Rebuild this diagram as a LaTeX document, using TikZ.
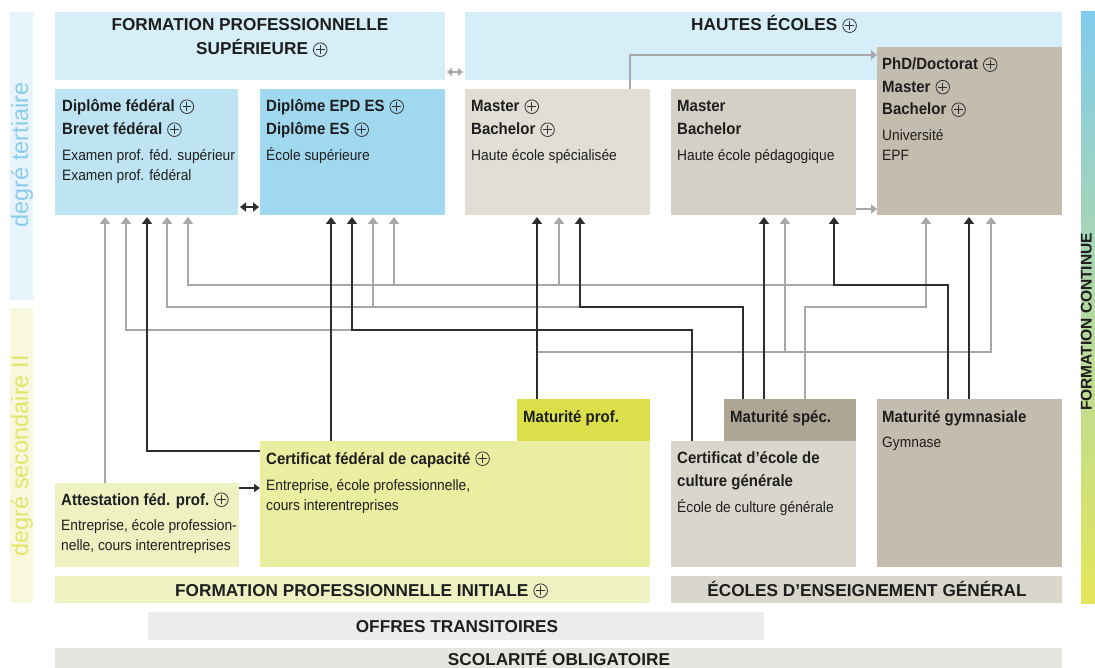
\documentclass[tikz,border=0pt]{standalone}
\usepackage{fontspec}
\setmainfont{Liberation Sans}
\newfontfamily\nar{Liberation Sans}[FakeStretch=0.92]
\usetikzlibrary{arrows.meta}
\definecolor{lbTbg}{RGB}{232,244,251}
\definecolor{lbTtx}{RGB}{138,204,236}
\definecolor{lbSbg}{RGB}{248,248,222}
\definecolor{lbStx}{RGB}{226,230,104}
\definecolor{hdblue}{RGB}{214,238,248}
\definecolor{cdipfed}{RGB}{190,228,244}
\definecolor{cepd}{RGB}{160,216,240}
\definecolor{ches}{RGB}{225,222,214}
\definecolor{chep}{RGB}{212,208,197}
\definecolor{cphd}{RGB}{196,189,175}
\definecolor{cmatprof}{RGB}{218,223,74}
\definecolor{ccfc}{RGB}{234,238,160}
\definecolor{cafp}{RGB}{238,241,194}
\definecolor{cmatspec}{RGB}{174,165,148}
\definecolor{cecg}{RGB}{217,214,204}
\definecolor{cot}{RGB}{236,236,234}
\definecolor{cscol}{RGB}{231,229,224}
\definecolor{fctop}{RGB}{128,203,237}
\definecolor{fcmid}{RGB}{196,228,200}
\definecolor{fcbot}{RGB}{228,230,90}
\definecolor{txt}{RGB}{30,30,30}
\definecolor{grl}{RGB}{168,168,168}
\definecolor{bkl}{RGB}{45,45,45}
\definecolor{plc}{RGB}{50,50,50}
\newcommand\pl{\hspace{5pt}\tikz[baseline=-5.3pt,x=1pt,y=1pt]{\draw[plc,line width=0.8pt] (0,0) circle (6.8pt); \draw[plc,line width=0.8pt] (-4.3,0)--(4.3,0) (0,-4.3)--(0,4.3);}}
\begin{document}
\begin{tikzpicture}[x=1pt,y=-1pt,
  boxfill/.style={rectangle,inner sep=0pt,outer sep=0pt,anchor=north west,draw=none},
  bt/.style={anchor=base west,inner sep=0pt,text=txt,font=\nar\bfseries\fontsize{16.3}{18}\selectfont},
  lt/.style={anchor=base west,inner sep=0pt,text=txt,font=\nar\fontsize{15}{17}\selectfont},
  hd/.style={inner sep=0pt,text=txt,font=\bfseries\fontsize{17.2}{19}\selectfont},
  grline/.style={color=grl,line width=1.5pt,-{Triangle[length=7pt,width=10pt]}},
  bkline/.style={color=bkl,line width=1.5pt,-{Triangle[length=7pt,width=10pt]}},
  lbl/.style={rotate=90,inner sep=0pt,font=\fontsize{23.5}{26}\selectfont}]
\useasboundingbox (0,0) rectangle (1095,668);
\clip (0,0) rectangle (1095,668);
\fill[white] (0,0) rectangle (1095,668);

% side labels
\node[boxfill,fill=lbTbg,minimum width=23pt,minimum height=288pt] (lblT) at (10,12) {};
\node[boxfill,fill=lbSbg,minimum width=23pt,minimum height=295pt] (lblS) at (10,308) {};
\node[lbl,text=lbTtx] (lblTt) at (22,155) {degré tertiaire};
\node[lbl,text=lbStx] (lblSt) at (22,456) {degré secondaire II};

% formation continue
\node[boxfill,top color=fctop,middle color=fcmid,bottom color=fcbot,minimum width=14pt,minimum height=591pt] (fc) at (1081,12) {};
\node[inner sep=0pt,text=txt,font=\bfseries\fontsize{15.5}{17}\selectfont,rotate=90,anchor=base] (fct) at (1091.5,322) {FORMATION CONTINUE};

% header boxes
\node[boxfill,fill=hdblue,minimum width=390pt,minimum height=68pt] (fps) at (55,12) {};
\node[boxfill,fill=hdblue,minimum width=597pt,minimum height=68pt] (he) at (465,12) {};
\node[hd,anchor=base] (fpst1) at (250,31) {FORMATION PROFESSIONNELLE};
\node[hd,anchor=base west] (fpst2) at (196,55) {SUPÉRIEURE\pl};
\node[hd,anchor=base west] (het) at (691,31) {HAUTES ÉCOLES\pl};

% tertiary boxes
\node[boxfill,fill=cdipfed,minimum width=183pt,minimum height=126pt] (dipfed) at (55,89) {};
\node[boxfill,fill=cepd,minimum width=185pt,minimum height=126pt] (epd) at (260,89) {};
\node[boxfill,fill=ches,minimum width=185pt,minimum height=126pt] (hes) at (465,89) {};
\node[boxfill,fill=chep,minimum width=185pt,minimum height=126pt] (hep) at (671,89) {};
\node[boxfill,fill=cphd,minimum width=185pt,minimum height=168pt] (phd) at (877,47) {};

\node[bt] (tdf1) at (62,112) {Diplôme fédéral\pl};
\node[bt] (tdf2) at (62,135) {Brevet fédéral\pl};
\node[lt] (tdf3) at (62,161) {Examen prof. féd. supérieur};
\node[lt] (tdf4) at (62,181) {Examen prof. fédéral};

\node[bt] (tep1) at (266,112) {Diplôme EPD ES\pl};
\node[bt] (tep2) at (266,135) {Diplôme ES\pl};
\node[lt] (tep3) at (266,161) {École supérieure};

\node[bt] (ths1) at (471,112) {Master\pl};
\node[bt] (ths2) at (471,135) {Bachelor\pl};
\node[lt] (ths3) at (471,161) {Haute école spécialisée};

\node[bt] (thp1) at (677,112) {Master};
\node[bt] (thp2) at (677,135) {Bachelor};
\node[lt] (thp3) at (677,161) {Haute école pédagogique};

\node[bt] (tph1) at (882,70) {PhD/Doctorat\pl};
\node[bt] (tph2) at (882,92.5) {Master\pl};
\node[bt] (tph3) at (882,115) {Bachelor\pl};
\node[lt] (tph4) at (882,141) {Université};
\node[lt] (tph5) at (882,161) {EPF};

% secondary boxes
\node[boxfill,fill=ccfc,minimum width=390pt,minimum height=126pt] (cfc) at (260,441) {};
\node[boxfill,fill=cmatprof,minimum width=133pt,minimum height=42pt] (matprof) at (517,399) {};
\node[boxfill,fill=cafp,minimum width=184pt,minimum height=84pt] (afp) at (55,483) {};
\node[boxfill,fill=cecg,minimum width=185pt,minimum height=126pt] (ecg) at (671,441) {};
\node[boxfill,fill=cmatspec,minimum width=132pt,minimum height=42pt] (matspec) at (724,399) {};
\node[boxfill,fill=cphd,minimum width=185pt,minimum height=168pt] (matgym) at (877,399) {};

\node[bt] (tmp) at (523,422) {Maturité prof.};
\node[bt] (tms) at (730,422) {Maturité spéc.};
\node[bt] (tmg1) at (882,422) {Maturité gymnasiale};
\node[lt] (tmg2) at (882,447) {Gymnase};
\node[bt] (tcf1) at (266,464) {Certificat fédéral de capacité\pl};
\node[lt] (tcf2) at (266,490) {Entreprise, école professionnelle,};
\node[lt] (tcf3) at (266,510) {cours interentreprises};
\node[bt] (tec1) at (677,463) {Certificat d’école de};
\node[bt] (tec2) at (677,486) {culture générale};
\node[lt] (tec3) at (677,512) {École de culture générale};
\node[bt] (taf1) at (61,505) {Attestation féd. prof.\pl};
\node[lt] (taf2) at (61,530) {Entreprise, école profession-};
\node[lt] (taf3) at (61,550) {nelle, cours interentreprises};

% bottom bars
\node[boxfill,fill=cafp,minimum width=595pt,minimum height=27pt] (fpi) at (55,576) {};
\node[boxfill,fill=cecg,minimum width=391pt,minimum height=27pt] (eeg) at (671,576) {};
\node[boxfill,fill=cot,minimum width=616pt,minimum height=28pt] (ot) at (148,612) {};
\node[boxfill,fill=cscol,minimum width=1007pt,minimum height=40pt] (scol) at (55,648) {};
\node[hd,anchor=base west] (fpit) at (175,596) {FORMATION PROFESSIONNELLE INITIALE\pl};
\node[hd,anchor=base] (eegt) at (867,596) {ÉCOLES D’ENSEIGNEMENT GÉNÉRAL};
\node[hd,anchor=base] (ott) at (457,632) {OFFRES TRANSITOIRES};
\node[hd,anchor=base] (scolt) at (559,665) {SCOLARITÉ OBLIGATOIRE};

% arrow end coordinates
\coordinate (d1) at ([xshift=50pt,yshift=-2pt]dipfed.south west);
\coordinate (d2) at ([xshift=71pt,yshift=-2pt]dipfed.south west);
\coordinate (d3) at ([xshift=92pt,yshift=-2pt]dipfed.south west);
\coordinate (d4) at ([xshift=112pt,yshift=-2pt]dipfed.south west);
\coordinate (d5) at ([xshift=133pt,yshift=-2pt]dipfed.south west);
\coordinate (e1) at ([xshift=71pt,yshift=-2pt]epd.south west);
\coordinate (e2) at ([xshift=92pt,yshift=-2pt]epd.south west);
\coordinate (e3) at ([xshift=113pt,yshift=-2pt]epd.south west);
\coordinate (e4) at ([xshift=134pt,yshift=-2pt]epd.south west);
\coordinate (h1) at ([xshift=72pt,yshift=-2pt]hes.south west);
\coordinate (h2) at ([xshift=94pt,yshift=-2pt]hes.south west);
\coordinate (h3) at ([xshift=115pt,yshift=-2pt]hes.south west);
\coordinate (p1) at ([xshift=93pt,yshift=-2pt]hep.south west);
\coordinate (p2) at ([xshift=114pt,yshift=-2pt]hep.south west);
\coordinate (p3) at ([xshift=163pt,yshift=-2pt]hep.south west);
\coordinate (u1) at ([xshift=49pt,yshift=-2pt]phd.south west);
\coordinate (u2) at ([xshift=92pt,yshift=-2pt]phd.south west);
\coordinate (u3) at ([xshift=114pt,yshift=-2pt]phd.south west);
% start coordinates
\coordinate (mp) at ([xshift=20pt]matprof.north west);
\coordinate (ms1) at ([xshift=19pt]matspec.north west);
\coordinate (ms2) at ([xshift=40pt]matspec.north west);
\coordinate (ms3) at ([xshift=81pt]matspec.north west);
\coordinate (mg1) at ([xshift=71pt]matgym.north west);
\coordinate (mg2) at ([xshift=92pt]matgym.north west);
\coordinate (ec) at ([xshift=21pt]ecg.north west);
\coordinate (cf) at ([xshift=71pt]cfc.north west);
\coordinate (cfl) at ([yshift=-10pt]cfc.north west);
\coordinate (af) at ([xshift=50pt]afp.north west);
\coordinate (hx) at ([xshift=165pt]hes.north west);
% levels
\coordinate (lvA) at (0,285);
\coordinate (lvB) at (0,307);
\coordinate (lvC) at (0,330);
\coordinate (lvD) at (0,352);

% gray connectors
\draw[grline] (af) -- (d1);
\draw[grline] (ec) |- (lvC -| d2) -- (d2);
\draw[grline] (ms1) |- (lvB -| d4) -- (d4);
\draw[grline] (lvB -| e3) -- (e3);
\draw[grline] (mg1) |- (lvA -| d5) -- (d5);
\draw[grline] (lvA -| e4) -- (e4);
\draw[grline] (lvA -| h2) -- (h2);
\draw[grline] (mp) |- (lvD -| u3) -- (u3);
\draw[grline] (lvD -| p2) -- (p2);
\draw[grline] (ms3) |- (lvB -| u1) -- (u1);
\draw[grline,-{Triangle[length=6pt,width=9pt]}] (hx) |- ([yshift=-8pt]phd.north west);
\draw[grline,-{Triangle[length=6pt,width=9pt]}] ([yshift=6pt]hep.south east) -- ([yshift=6pt]phd.south west);

% black connectors
\draw[bkline] (mp) -- (h1);
\draw[bkline] (ms1) |- (lvB -| h3) -- (h3);
\draw[bkline] (ms2) -- (p1);
\draw[bkline] (mg1) |- (lvA -| p3) -- (p3);
\draw[bkline] (mg2) -- (u2);
\draw[bkline] (ec) |- (lvC -| e2) -- (e2);
\draw[bkline] (cf) -- (e1);
\draw[bkline] (cfl) -| (d3);
\draw[bkline,-{Triangle[length=6pt,width=8pt]}] ([yshift=-5pt]afp.north east) -- ([yshift=-47pt]cfc.north west);

% double arrows
\draw[color=bkl,line width=1.5pt,shorten <=2pt,shorten >=1pt,{Triangle[length=6pt,width=9pt]}-{Triangle[length=6pt,width=9pt]}] ([yshift=8pt]dipfed.south east) -- ([yshift=8pt]epd.south west);
\draw[color=grl,line width=1.5pt,shorten <=2pt,shorten >=2pt,{Triangle[length=5pt,width=8pt]}-{Triangle[length=5pt,width=8pt]}] ([yshift=8pt]fps.south east) -- ([yshift=8pt]he.south west);
\end{tikzpicture}
\end{document}
